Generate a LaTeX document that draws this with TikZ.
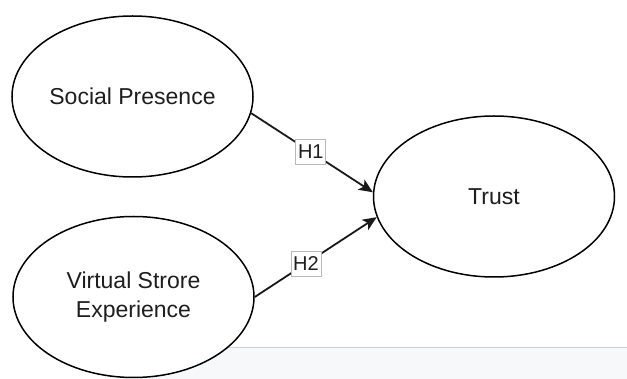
\documentclass[tikz,border=0pt]{standalone}
\usepackage{fontspec}
\setmainfont{Liberation Sans}
\usetikzlibrary{shapes.geometric,arrows.meta}
\definecolor{txt}{HTML}{1E1E1E}
\definecolor{panel}{HTML}{F7F8FA}
\definecolor{panelline}{HTML}{CFCFCF}
\definecolor{lblline}{HTML}{B8B8B8}
\tikzset{
  construct/.style={ellipse, draw=black, line width=1.5pt, fill=white,
    minimum width=241pt, minimum height=161pt, inner sep=0pt,
    text=txt, align=center, font=\fontsize{23}{29}\selectfont},
  path/.style={draw=black!90, line width=1.8pt,
    -{Stealth[length=14pt,width=12pt,inset=3.5pt]}},
  hyp/.style={draw=lblline, line width=0.8pt, fill=white, text=txt,
    minimum width=30pt, minimum height=25pt, inner sep=1pt,
    font=\fontsize{20}{20}\selectfont}
}
\begin{document}
\begin{tikzpicture}[x=1pt,y=-1pt]
\useasboundingbox (0,0) rectangle (627,379);
\fill[panel] (150,348) rectangle (627,379);
\draw[panelline, line width=1pt] (150,348) -- (627,348);
\node[construct] (sp) at (132.5,96.5) {Social Presence};
\node[construct] (vs) at (133.5,297) {Virtual Strore\\Experience};
\node[construct] (tr) at (494,196.5) {Trust};
\draw[path] (sp.-8) -- node[hyp, pos=0.49] (h1) {H1} (tr.178);
\draw[path] (vs.east) -- node[hyp, pos=0.42] (h2) {H2} (tr.190);
\end{tikzpicture}
\end{document}
